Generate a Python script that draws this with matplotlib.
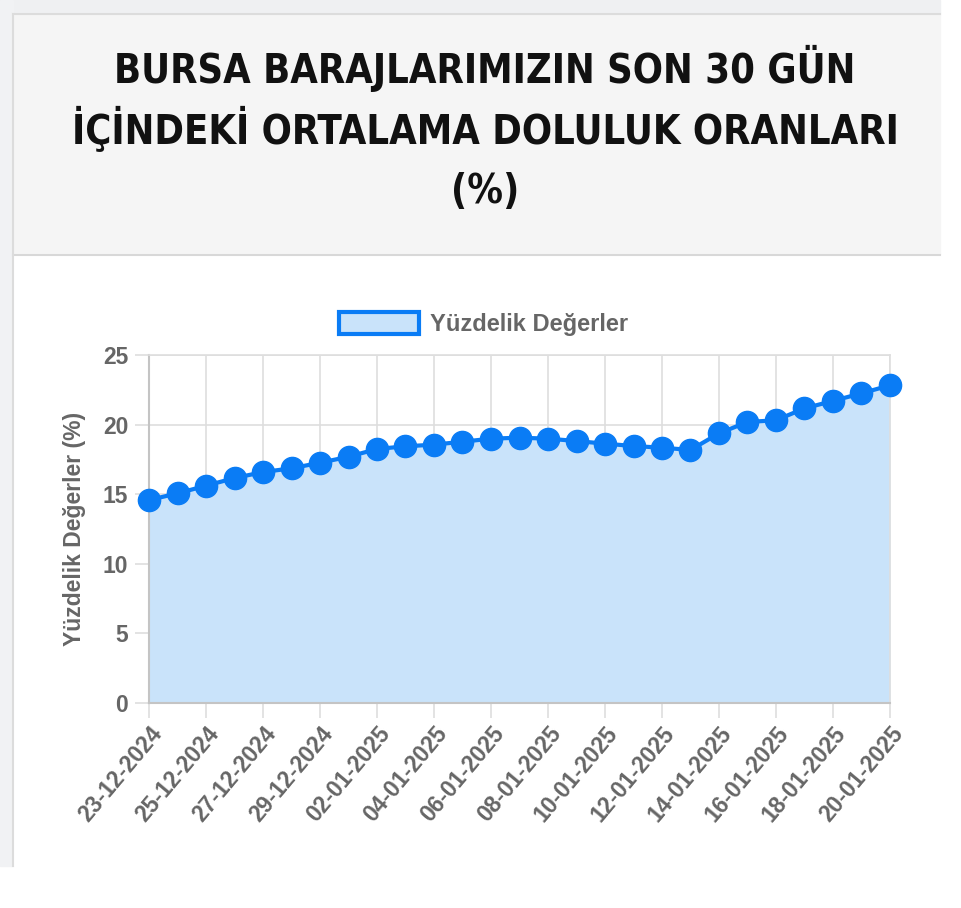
import matplotlib
matplotlib.use("Agg")
import matplotlib.pyplot as plt
from matplotlib.patches import Rectangle
from matplotlib.lines import Line2D

# --- data ---
dates = ["23-12-2024", "24-12-2024", "25-12-2024", "26-12-2024", "27-12-2024",
         "28-12-2024", "29-12-2024", "30-12-2024", "02-01-2025", "03-01-2025",
         "04-01-2025", "05-01-2025", "06-01-2025", "07-01-2025", "08-01-2025",
         "09-01-2025", "10-01-2025", "11-01-2025", "12-01-2025", "13-01-2025",
         "14-01-2025", "15-01-2025", "16-01-2025", "17-01-2025", "18-01-2025",
         "19-01-2025", "20-01-2025"]
values = [14.58, 15.06, 15.61, 16.16, 16.59, 16.86, 17.26, 17.69, 18.25, 18.44,
          18.56, 18.77, 18.99, 19.06, 18.99, 18.82, 18.63, 18.46, 18.34, 18.18,
          19.37, 20.19, 20.31, 21.17, 21.70, 22.25, 22.82]
y_ticks = [0, 5, 10, 15, 20, 25]

title_lines = ["BURSA BARAJLARIMIZIN SON 30 GÜN",
               "İÇİNDEKİ ORTALAMA DOLULUK ORANLARI",
               "(%)"]
series_name = "Yüzdelik Değerler"
y_label = "Yüzdelik Değerler (%)"

W, H = 962, 908
line_col = "#0a7cf5"
fill_col = "#c9e3fa"
text_col = "#666666"
grid_col = "#dedede"
sans = ["Liberation Sans", "DejaVu Sans"]

fig = plt.figure(figsize=(W / 100, H / 100), dpi=100)
fig.patch.set_facecolor("white")

# page background / card
bg = fig.add_axes([0, 0, 1, 1], zorder=-10)
bg.set_xlim(0, W)
bg.set_ylim(H, 0)
bg.axis("off")
bg.add_patch(Rectangle((0, 0), 940, 14, color="#eff0f2"))
bg.add_patch(Rectangle((0, 0), 13, 866, color="#f1f2f4"))
bg.add_patch(Rectangle((13, 14), 927, 240, color="#f5f5f5"))
bg.add_patch(Rectangle((14, 254), 926, 612, color="white"))
bg.add_line(Line2D([13, 940], [14, 14], color="#dcdcdc", lw=1.5))
bg.add_line(Line2D([13, 940], [254.5, 254.5], color="#d8d8d8", lw=1.5))
bg.add_line(Line2D([13.5, 13.5], [14, 866], color="#dcdcdc", lw=1.5))

# title, one text per line so each line can be placed like the reference
for yy, line in zip([68, 130, 192], title_lines):
    bg.text(485, yy, line, ha="center", va="center", fontsize=28.5,
            fontweight="bold", fontstretch="condensed", color="#111111",
            family=["DejaVu Sans"])

# chart
ax = fig.add_axes([149 / W, 1 - 703 / H, (890 - 149) / W, (703 - 355) / H])
x = list(range(len(values)))
ax.fill_between(x, values, 0, color=fill_col, zorder=1, lw=0)
ax.plot(x, values, color=line_col, lw=3, marker="o", markersize=16,
        markerfacecolor=line_col, markeredgecolor=line_col, zorder=3,
        clip_on=False)

ax.set_xlim(0, len(values) - 1)
ax.set_ylim(0, 25)
ax.set_yticks(y_ticks)
ax.set_xticks(x[::2])
ax.set_xticklabels(dates[::2], rotation=50, ha="right", rotation_mode="anchor")
ax.grid(True, color=grid_col, lw=1.2, zorder=0)
ax.set_axisbelow(True)
for s in ["top", "right"]:
    ax.spines[s].set_color(grid_col)
    ax.spines[s].set_linewidth(1.2)
for s in ["left", "bottom"]:
    ax.spines[s].set_color("#c4c4c4")
    ax.spines[s].set_linewidth(1.5)
ax.tick_params(axis="both", colors=grid_col, labelcolor=text_col, width=1.2,
               labelsize=16.5)
ax.tick_params(axis="y", length=10, pad=5)
ax.tick_params(axis="x", length=11, pad=3)
for lbl in ax.get_xticklabels() + ax.get_yticklabels():
    lbl.set_fontweight("bold")
    lbl.set_family(sans)

ax.set_ylabel(y_label, fontsize=16.5, fontweight="bold", color=text_col,
              family=sans, labelpad=12)

# legend
leg = ax.legend([Rectangle((0, 0), 1, 1, facecolor=fill_col, edgecolor=line_col, lw=3)],
                [series_name], loc="lower center", bbox_to_anchor=(0.451, 1.007),
                frameon=False, handlelength=3.4, handleheight=1.0, handletextpad=0.45,
                borderpad=0.2, prop={"size": 17, "weight": "bold", "family": sans})
for t in leg.get_texts():
    t.set_color(text_col)

fig.savefig("out.png", dpi=100)
